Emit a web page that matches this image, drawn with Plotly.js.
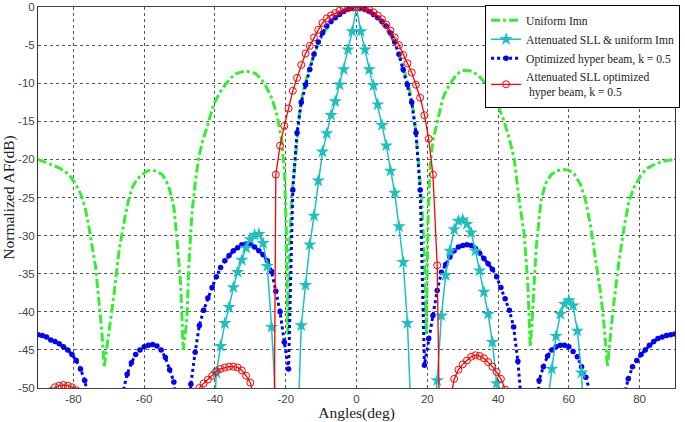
<!DOCTYPE html>
<html>
<head>
<meta charset="utf-8">
<script src="https://cdn.plot.ly/plotly-3.0.1.min.js"></script>
<style>
  html, body { margin: 0; padding: 0; background: #fff; }
  #chart { width: 685px; height: 422px; }
</style>
</head>
<body>
<div id="chart"></div>
<script>
// sample angles (deg) shared by the three marker series
const angles = [
  -90, -88.8, -87.6, -86.4, -85.2, -84, -82.8, -81.6, -80.4, -79.2,
  -78, -76.8, -75.6, -74.4, -73.2, -72, -70.8, -69.6, -68.4, -67.2,
  -66, -64.8, -63.6, -62.4, -61.2, -60, -58.8, -57.6, -56.4, -55.2,
  -54, -52.8, -51.6, -50.4, -49.2, -48, -46.8, -45.6, -44.4, -43.2,
  -42, -40.8, -39.6, -38.4, -37.2, -36, -34.8, -33.6, -32.4, -31.2,
  -30, -28.8, -27.6, -26.4, -25.2, -24, -22.8, -21.6, -20.4, -19.2,
  -18, -16.8, -15.6, -14.4, -13.2, -12, -10.8, -9.6, -8.4, -7.2,
  -6, -4.8, -3.6, -2.4, -1.2, 0,
  1.2, 2.4, 3.6, 4.8, 6, 7.2, 8.4, 9.6, 10.8, 12,
  13.2, 14.4, 15.6, 16.8, 18, 19.2, 20.4, 21.6, 22.8, 24,
  25.2, 26.4, 27.6, 28.8, 30, 31.2, 32.4, 33.6, 34.8, 36,
  37.2, 38.4, 39.6, 40.8, 42, 43.2, 44.4, 45.6, 46.8, 48,
  49.2, 50.4, 51.6, 52.8, 54, 55.2, 56.4, 57.6, 58.8, 60,
  61.2, 62.4, 63.6, 64.8, 66, 67.2, 68.4, 69.6, 70.8, 72,
  73.2, 74.4, 75.6, 76.8, 78, 79.2, 80.4, 81.6, 82.8, 84,
  85.2, 86.4, 87.6, 88.8, 90
];

// Optimized hyper beam, k = 0.5
const hyperDb = [
  -43.0, -43.1, -43.3, -43.7, -43.9, -44.2, -44.6, -45.0, -45.6, -46.4,
  -47.5, -49.0, -51.5, -58, -65, -70, -70, -70, -65, -58,
  -50.5, -48.2, -46.7, -45.6, -45.0, -44.6, -44.4, -44.3, -44.5, -45.0,
  -46.0, -47.6, -49.2, -55, -65, -58, -49.5, -45.3, -41.8, -39.8,
  -38.2, -36.8, -35.4, -34.2, -33.3, -32.6, -32.0, -31.6, -31.2, -31.1,
  -31.2, -31.5, -32.0, -32.5, -33.3, -34.7, -37.3, -40.0, -44.0, -47.5,
  -24.0, -16.5, -12.5, -10.2, -8.2, -6.2, -4.6, -3.4, -2.5, -1.9,
  -1.4, -1.0, -0.6, -0.3, -0.1, 0,
  -0.1, -0.3, -0.6, -1.0, -1.4, -1.9, -2.5, -3.4, -4.6, -6.2,
  -8.2, -10.2, -12.5, -16.5, -24.0, -47.0, -43.5, -40.5, -37.2, -34.8,
  -33.8, -32.8, -32.0, -31.5, -31.3, -31.2, -31.3, -31.7, -32.3, -33.0,
  -33.7, -34.4, -35.4, -36.8, -38.3, -39.8, -42.0, -46.5, -53, -62,
  -70, -60, -49.0, -47.2, -45.8, -45.0, -44.6, -44.4, -44.4, -44.6,
  -45.2, -45.9, -47.2, -48.6, -50.5, -58, -65, -70, -70, -70,
  -65, -58, -51.0, -48.8, -47.2, -46.4, -45.6, -45.0, -44.4, -43.9,
  -43.5, -43.3, -43.1, -43.0, -42.9
];

// Attenuated SLL & uniform Imn
const attUniformDb = [
  -60, -60, -60, -60, -60, -60, -60, -60, -60, -60,
  -60, -60, -60, -60, -60, -60, -60, -60, -60, -60,
  -60, -60, -60, -60, -60, -60, -60, -60, -60, -60,
  -60, -60, -60, -60, -60, -60, -60, -60, -60, -60,
  -60, -58, -48.0, -44.5, -41.5, -39.4, -36.8, -34.8, -33.2, -31.6,
  -30.5, -29.9, -29.8, -31.0, -34.0, -42.0, -52, -60, -60, -60,
  -60, -58, -41.8, -36.5, -31.2, -27.4, -22.8, -19.0, -16.6, -14.2,
  -12.4, -10.2, -8.2, -5.6, -3.2, 0,
  -3.2, -5.6, -8.2, -10.3, -12.8, -15.5, -18.2, -21.5, -24.4, -28.8,
  -33.5, -41.5, -56, -60, -60, -60, -60, -56, -49.0, -40.5,
  -35.2, -32.0, -29.2, -28.1, -27.9, -28.5, -29.6, -32.0, -34.6, -37.4,
  -40.3, -44.0, -49.4, -60, -60, -60, -60, -60, -60, -60,
  -60, -60, -60, -60, -52, -47.5, -43.2, -40.3, -39.0, -38.5,
  -39.2, -42.5, -48.0, -60, -60, -60, -60, -60, -60, -60,
  -60, -60, -60, -60, -60, -60, -60, -60, -60, -60,
  -60, -60, -60, -60, -60
];

// Attenuated SLL optimized hyper beam, k = 0.5
const attHyperDb = [
  -60, -60, -60, -50.4, -49.9, -49.7, -49.6, -49.7, -49.9, -50.3,
  -60, -60, -60, -60, -60, -60, -60, -60, -60, -60,
  -60, -60, -60, -60, -60, -60, -60, -60, -60, -60,
  -60, -60, -60, -60, -60, -60, -60, -55, -50.0, -49.4,
  -48.9, -48.4, -47.8, -47.5, -47.3, -47.2, -47.2, -47.3, -47.7, -48.4,
  -49.3, -51.5, -56, -62, -75, -110, -22.0, -18.2, -15.6, -13.3,
  -11.0, -9.3, -7.6, -6.1, -5.1, -4.0, -3.0, -2.1, -1.5, -1.1,
  -0.8, -0.5, -0.3, -0.15, -0.04, 0,
  -0.04, -0.2, -0.4, -0.7, -1.1, -1.6, -2.3, -3.1, -4.0, -5.0,
  -6.3, -7.4, -8.6, -10.2, -11.9, -14.2, -17.3, -22.0, -33.9, -72,
  -65, -52, -48.8, -47.6, -46.9, -46.4, -45.9, -45.7, -45.8, -46.1,
  -46.6, -47.2, -47.9, -48.8, -50.2, -56, -60, -60, -60, -60,
  -60, -60, -60, -60, -60, -60, -60, -60, -60, -60,
  -60, -60, -60, -60, -60, -60, -60, -60, -60, -60,
  -60, -60, -60, -60, -60, -60, -60, -60, -60, -60,
  -60, -60, -60, -60, -60
];

// Uniform Imn (line only)
const uniformAngles = [
  -90, -87, -84, -81.2, -79.3, -77.9, -76.7, -75.6, -74.6, -73.7,
  -72.8, -71.9, -71.3, -70.6, -70.0, -68.5, -67.1, -66.2, -65.2, -64.3,
  -63.4, -62.0, -60.6, -59.1, -57.7, -56.3, -54.9, -53.9, -53.0, -52.2,
  -51.6, -50.7, -49.7, -49.3, -49.0, -48.4, -47.9, -47.4, -46.5, -45.5,
  -44.6, -43.5, -42.3, -40.4, -38.7, -37.1, -35.5, -33.8, -31.4, -28.6,
  -26.9, -25.8, -24.9, -23.9, -22.5, -21.1, -20.3, -19.8, -19.4, -18.9,
  -18.3, -17.8, -16.9, -16.0, -15.0, -13.6, -12.2, -10.8, -9.0, -7.0,
  -5.0, -3.0, 0,
  3.0, 5.0, 7.0, 9.0, 10.8, 12.2, 13.6, 15.0, 16.0, 16.9,
  17.8, 18.5, 19.2, 19.7, 20.2, 20.8, 21.6, 23.0, 24.4, 25.5,
  26.8, 28.0, 29.6, 30.5, 32.2, 34.3, 36.1, 38.0, 39.9, 41.7,
  43.2, 44.6, 46.0, 47.4, 48.4, 49.1, 49.8, 50.7, 52.1, 53.4,
  55.0, 56.6, 58.2, 59.9, 61.5, 63.3, 64.8, 66.2, 67.6, 69.0,
  70.0, 70.9, 71.8, 72.8, 74.2, 75.6, 77.0, 78.5, 80.2, 82.0,
  84.5, 87.0, 90.0
];
const uniformDb = [
  -20.0, -20.5, -21.1, -22.0, -23.3, -24.6, -26.3, -28.9, -31.5, -34.2,
  -38.5, -42.9, -47.3, -45.0, -42.9, -37.6, -32.0, -29.5, -27.0, -25.2,
  -23.7, -22.6, -22.0, -21.5, -21.4, -21.6, -22.0, -22.7, -23.7, -25.0,
  -26.3, -30.7, -36.3, -40.7, -45.0, -43.0, -40.7, -34.2, -27.0, -22.8,
  -19.8, -17.6, -15.9, -12.8, -11.3, -10.2, -9.3, -8.7, -8.4, -8.7,
  -9.5, -10.2, -11.0, -12.0, -14.1, -17.6, -22.0, -30.0, -43.0, -31.0,
  -25.0, -22.5, -17.0, -13.5, -10.9, -8.5, -6.6, -4.8, -3.2, -2.0,
  -1.0, -0.4, 0,
  -0.4, -1.0, -2.0, -3.2, -4.8, -6.6, -8.5, -10.9, -13.5, -17.0,
  -22.5, -26.0, -33.0, -43.0, -28.0, -21.0, -17.5, -14.6, -12.0, -10.8,
  -9.8, -9.0, -8.4, -8.3, -8.4, -8.9, -9.8, -11.1, -12.8, -15.0,
  -17.3, -20.0, -25.5, -29.8, -36.3, -44.6, -39.8, -32.0, -25.5, -23.2,
  -22.0, -21.5, -21.3, -21.4, -21.9, -23.3, -25.5, -28.9, -33.3, -37.6,
  -42.0, -47.2, -42.9, -38.5, -33.3, -28.9, -25.5, -23.6, -22.2, -21.2,
  -20.6, -20.2, -20.0
];

const seriesNames = [
  "Uniform Imn",
  "Attenuated SLL & uniform Imn",
  "Optimized hyper beam, k = 0.5",
  "Attenuated SLL optimized<br> hyper beam, k = 0.5"
];

const xTickVals = [-80, -60, -40, -20, 0, 20, 40, 60, 80];
const xTickText = ["-80", "-60", "-40", "-20", "0", "20", "40", "60", "80"];
const yTickVals = [0, -5, -10, -15, -20, -25, -30, -35, -40, -45, -50];
const yTickText = ["0", "-5", "-10", "-15", "-20", "-25", "-30", "-35", "-40", "-45", "-50"];

const serif = "Liberation Serif, Times New Roman, serif";
const sans = "Liberation Sans, Arial, sans-serif";

const traces = [
  {
    x: uniformAngles, y: uniformDb, name: seriesNames[0], legendrank: 1,
    type: "scatter", mode: "lines",
    line: { color: "#33ee33", width: 3, dash: "dashdot" }
  },
  {
    x: angles, y: hyperDb, name: seriesNames[2], legendrank: 3,
    type: "scatter", mode: "lines+markers",
    line: { color: "#0000ff", width: 3, dash: "dot" },
    marker: { symbol: "circle", size: 5.5, color: "#0000ff" }
  },
  {
    x: angles, y: attUniformDb, name: seriesNames[1], legendrank: 2,
    type: "scatter", mode: "lines+markers",
    line: { color: "#1cc0c0", width: 1.5 },
    marker: { symbol: "star", size: 10, color: "#1cc0c0" }
  },
  {
    x: angles, y: attHyperDb, name: seriesNames[3], legendrank: 4,
    type: "scatter", mode: "lines+markers",
    line: { color: "#ff0000", width: 1.3 },
    marker: { symbol: "circle-open", size: 7, color: "#ff0000", line: { width: 1 } }
  }
];

const layout = {
  width: 685,
  height: 422,
  margin: { l: 38, r: 7, t: 5, b: 34 },
  paper_bgcolor: "#ffffff",
  plot_bgcolor: "#ffffff",
  font: { family: sans, size: 12, color: "#444" },
  showlegend: true,
  legend: {
    x: 1.008, y: 1.006, xanchor: "right", yanchor: "top",
    bgcolor: "#ffffff", bordercolor: "#000000", borderwidth: 1,
    font: { family: serif, size: 11.6, color: "#222" },
    tracegroupgap: 0
  },
  xaxis: {
    range: [-90, 90],
    tickvals: xTickVals, ticktext: xTickText,
    showgrid: true, gridcolor: "#555", griddash: "dot", gridwidth: 1,
    zeroline: false,
    showline: true, linecolor: "#444", linewidth: 1, mirror: true,
    ticks: "",
    tickfont: { family: sans, size: 11.5, color: "#444" },
    title: { text: "Angles(deg)", standoff: 4, font: { family: serif, size: 15.5, color: "#222" } }
  },
  yaxis: {
    range: [-50, 0],
    tickvals: yTickVals, ticktext: yTickText,
    showgrid: true, gridcolor: "#555", griddash: "dot", gridwidth: 1,
    zeroline: false,
    showline: true, linecolor: "#333", linewidth: 1, mirror: true,
    ticks: "",
    tickfont: { family: sans, size: 11.5, color: "#444" },
    title: { text: "Normalized AF(dB)", standoff: 2, font: { family: serif, size: 15.5, color: "#222" } }
  }
};

Plotly.newPlot("chart", traces, layout, { displayModeBar: false, staticPlot: true });
</script>
</body>
</html>
